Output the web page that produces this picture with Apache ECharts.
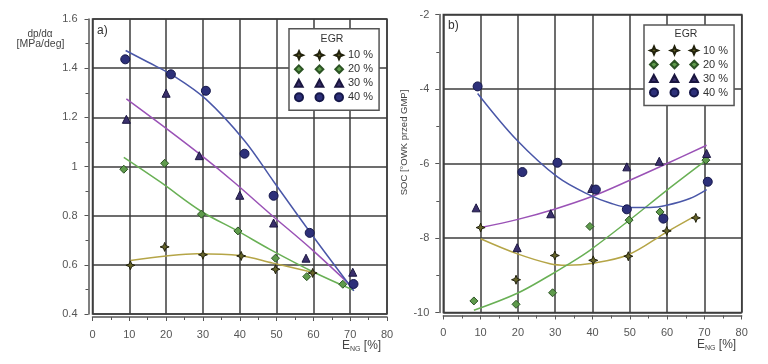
<!DOCTYPE html>
<html><head><meta charset="utf-8">
<script src="https://cdn.jsdelivr.net/npm/echarts@6/dist/echarts.min.js"></script>
<style>html,body{margin:0;padding:0;background:#fff}#c{width:768px;height:364px}</style>
</head><body><div id="c"></div>
<script>
// ---- data ----
const seriesNames = ['10 %', '20 %', '30 %', '40 %'];
const xMin = 0, xMax = 80, xStep = 10;
const aYMin = 0.4, aYMax = 1.6, aYStep = 0.2;
const bYMin = -10, bYMax = -2, bYStep = 2;

// chart a) dp/dα [MPa/deg]
const a10 = [[10.3,0.598],[19.6,0.673],[30,0.641],[40.4,0.636],[49.7,0.582],[59.8,0.567]];
const a20 = [[8.5,0.989],[19.6,1.013],[29.6,0.806],[39.5,0.738],[49.7,0.627],[58.2,0.552],[68,0.521]];
const a30 = [[9.2,1.192],[20,1.298],[29,1.044],[40,0.883],[49.2,0.770],[58,0.627],[70.7,0.570]];
const a40 = [[8.9,1.436],[21.3,1.375],[30.8,1.308],[41.3,1.052],[49.2,0.881],[59,0.730],[70.9,0.522]];
const a10Fit = [[10.3,0.618],[20,0.636],[28.4,0.645],[40,0.638],[49,0.607],[60,0.569]];
const a20Fit = [[8.5,1.037],[18.4,0.937],[29.5,0.818],[39.5,0.737],[48.3,0.662],[60,0.571],[70.9,0.497]];
const a30Fit = [[9.2,1.275],[20,1.155],[30,1.04],[38.3,0.938],[48.3,0.807],[60,0.657],[70.9,0.505]];
const a40Fit = [[9,1.472],[15,1.425],[22,1.369],[30.8,1.274],[41.3,1.105],[49.2,0.939],[60,0.714],[71,0.494]];

// chart b) SOC [°OWK przed GMP]
const b10 = [[10,-7.72],[19.5,-9.12],[29.9,-8.47],[40.2,-8.6],[49.6,-8.49],[59.9,-7.81],[67.7,-7.46]];
const b20 = [[8.2,-9.69],[19.5,-9.78],[29.3,-9.47],[39.3,-7.69],[49.8,-7.52],[58.1,-7.30],[70.4,-5.91]];
const b30 = [[8.8,-7.19],[19.8,-8.26],[28.8,-7.35],[39.8,-6.67],[49.2,-6.09],[57.9,-5.94],[70.6,-5.73]];
const b40 = [[9.2,-3.93],[21.2,-6.23],[30.6,-5.98],[40.9,-6.70],[49.2,-7.23],[59,-7.48],[70.9,-6.49]];
const b10Fit = [[10,-8.02],[19.7,-8.42],[28.6,-8.69],[33.1,-8.73],[40,-8.68],[49.6,-8.45],[59.9,-7.84],[67.7,-7.40]];
const b20Fit = [[8.2,-9.94],[19.7,-9.49],[28.6,-9.0],[33.1,-8.73],[39.3,-8.33],[49.9,-7.52],[59.9,-6.72],[70.5,-5.91]];
const b30Fit = [[10,-7.72],[20,-7.5],[30,-7.22],[40,-6.88],[50,-6.45],[60,-6.0],[70.6,-5.51]];
const b40Fit = [[9.2,-4.12],[19.7,-5.37],[30.6,-6.36],[39.3,-6.85],[44.7,-7.06],[49.9,-7.18],[55.4,-7.18],[59.9,-7.12],[66.1,-6.94],[70.6,-6.7]];

// ---- styles ----
const FONT = 'Liberation Sans, Arial, sans-serif';
const starPath = 'path://M0,-10L2.8,-2.8L10,0L2.8,2.8L0,10L-2.8,2.8L-10,0L-2.8,-2.8Z';
function starAt(c){return `M${c},0L${c+1.2},2.8L${c+4},4L${c+1.2},5.2L${c},8L${c-1.2},5.2L${c-4},4L${c-1.2},2.8Z`;}
function diaAt(c){return `M${c},0.2L${c+3.8},4L${c},7.8L${c-3.8},4Z`;}
function triAt(c){return `M${c},0.5L${c+3.8},7.5L${c-3.8},7.5Z`;}
function cirAt(c){return `M${c-4},4A4,4 0 1,0 ${c+4},4A4,4 0 1,0 ${c-4},4Z`;}
function tri(f){return 'path://' + f(4) + f(24.5) + f(44);}
const styles = [
  {sym: starPath, size: 9, fill: '#66642a', border: '#22220c', line: '#b5a547'},
  {sym: 'diamond', size: 8, fill: '#5f9b4c', border: '#2c5424', line: '#69b055'},
  {sym: 'triangle', size: 8, fill: '#3b306c', border: '#1a1640', line: '#9a52b6'},
  {sym: 'circle', size: 9, fill: '#2d3079', border: '#15174a', line: '#4a57a8'}
];
const legendIcons = [tri(starAt), tri(diaAt), tri(triAt), tri(cirAt)];

const aPts = [a10, a20, a30, a40], aFits = [a10Fit, a20Fit, a30Fit, a40Fit];
const bPts = [b10, b20, b30, b40], bFits = [b10Fit, b20Fit, b30Fit, b40Fit];

const series = [];
[[aFits, 0], [bFits, 1]].forEach(([fits, gi]) => {
  fits.forEach((d, i) => series.push({
    type: 'line', name: seriesNames[i] + ' fit' + gi, xAxisIndex: gi, yAxisIndex: gi,
    data: d, smooth: 0.35, symbol: 'none', z: 2,
    lineStyle: {color: styles[i].line, width: 1.5}, silent: true
  }));
});
[[aPts, 0], [bPts, 1]].forEach(([pts, gi]) => {
  pts.forEach((d, i) => series.push({
    type: 'scatter', name: seriesNames[i], xAxisIndex: gi, yAxisIndex: gi,
    data: d, symbol: styles[i].sym, symbolSize: styles[i].size, z: 3,
    itemStyle: {color: styles[i].fill, borderColor: styles[i].border, borderWidth: 1, opacity: 1}
  }));
});

function xAxisDef(gi){
  return {
    type: 'value', gridIndex: gi, min: xMin, max: xMax, interval: xStep, offset: 3,
    axisLine: {show: true, onZero: false, lineStyle: {color: '#555', width: 1.5}},
    axisTick: {show: true, length: 4, lineStyle: {color: '#555'}},
    minorTick: {show: true, splitNumber: 2, length: 3, lineStyle: {color: '#555'}},
    splitLine: {show: true, lineStyle: {color: '#3c3c3c', width: 1.5}},
    axisLabel: {color: '#555', fontSize: 11, fontFamily: FONT, margin: 12}
  };
}
function yAxisDef(gi, mn, mx, st, mg){
  return {
    type: 'value', gridIndex: gi, min: mn, max: mx, interval: st, offset: 4,
    axisLine: {show: true, onZero: false, lineStyle: {color: '#555', width: 1.5}},
    axisTick: {show: true, length: 4, lineStyle: {color: '#555'}},
    minorTick: {show: true, splitNumber: 2, length: 3, lineStyle: {color: '#555'}},
    splitLine: {show: true, lineStyle: {color: '#3c3c3c', width: 1.5}},
    axisLabel: {color: '#555', fontSize: 11, fontFamily: FONT, margin: mg}
  };
}
function legendDef(left, top, padTop){
  return {
    left: left, top: top, orient: 'vertical', selectedMode: false,
    data: seriesNames.map((n, i) => ({name: n, icon: legendIcons[i]})),
    itemWidth: 48, itemHeight: 8, itemGap: 2,
    padding: [padTop, 6, 7, 5],
    backgroundColor: '#fff', borderColor: '#555', borderWidth: 1.5,
    textStyle: {fontSize: 11, lineHeight: 12, color: '#333', fontFamily: FONT}
  };
}

const chart = echarts.init(document.getElementById('c'), null, {renderer: 'canvas'});
chart.setOption({
  animation: false,
  backgroundColor: '#fff',
  grid: [
    {left: 92.5, top: 19, width: 294.5, height: 295, show: true, borderColor: '#444', borderWidth: 1.5, containLabel: false},
    {left: 443.3, top: 14.5, width: 298.4, height: 298, show: true, borderColor: '#444', borderWidth: 1.5, containLabel: false}
  ],
  xAxis: [xAxisDef(0), xAxisDef(1)],
  yAxis: [yAxisDef(0, aYMin, aYMax, aYStep, 11), yAxisDef(1, bYMin, bYMax, bYStep, 10)],
  legend: [legendDef(289, 28.7, 20.5), legendDef(644, 25, 19.5)],
  title: [
    {text: 'EGR', left: 332, top: 34, textAlign: 'center', padding: 0, textStyle: {fontSize: 10.5, fontWeight: 'normal', color: '#333', fontFamily: FONT}},
    {text: 'EGR', left: 686, top: 29, textAlign: 'center', padding: 0, textStyle: {fontSize: 10.5, fontWeight: 'normal', color: '#333', fontFamily: FONT}}
  ],
  graphic: [
    {type: 'text', left: 97, top: 25, z: 10, style: {text: 'a)', fontSize: 12, fill: '#333', fontFamily: FONT}},
    {type: 'text', left: 448, top: 19.5, z: 10, style: {text: 'b)', fontSize: 12, fill: '#333', fontFamily: FONT}},
    {type: 'text', x: 40, y: 34, z: 10, style: {text: 'dp/dα', fontSize: 10, fill: '#444', fontFamily: FONT, align: 'center', verticalAlign: 'middle'}},
    {type: 'text', x: 40.5, y: 44, z: 10, style: {text: '[MPa/deg]', fontSize: 10.5, fill: '#444', fontFamily: FONT, align: 'center', verticalAlign: 'middle'}},
    {type: 'text', x: 404, y: 142.5, rotation: Math.PI / 2, z: 10, style: {text: 'SOC [°OWK przed GMP]', fontSize: 9.5, fill: '#444', fontFamily: FONT, align: 'center', verticalAlign: 'middle'}},
    {type: 'text', left: 342, top: 340, z: 10, style: {text: '{e|E}{s|NG}{e| [%]}', fill: '#444', fontFamily: FONT,
      rich: {e: {fontSize: 12, lineHeight: 14, fill: '#444', fontFamily: FONT}, s: {fontSize: 7, verticalAlign: 'bottom', fill: '#444', fontFamily: FONT}}}},
    {type: 'text', left: 697, top: 339, z: 10, style: {text: '{e|E}{s|NG}{e| [%]}', fill: '#444', fontFamily: FONT,
      rich: {e: {fontSize: 12, lineHeight: 14, fill: '#444', fontFamily: FONT}, s: {fontSize: 7, verticalAlign: 'bottom', fill: '#444', fontFamily: FONT}}}}
  ],
  series: series
});
</script>
</body></html>
